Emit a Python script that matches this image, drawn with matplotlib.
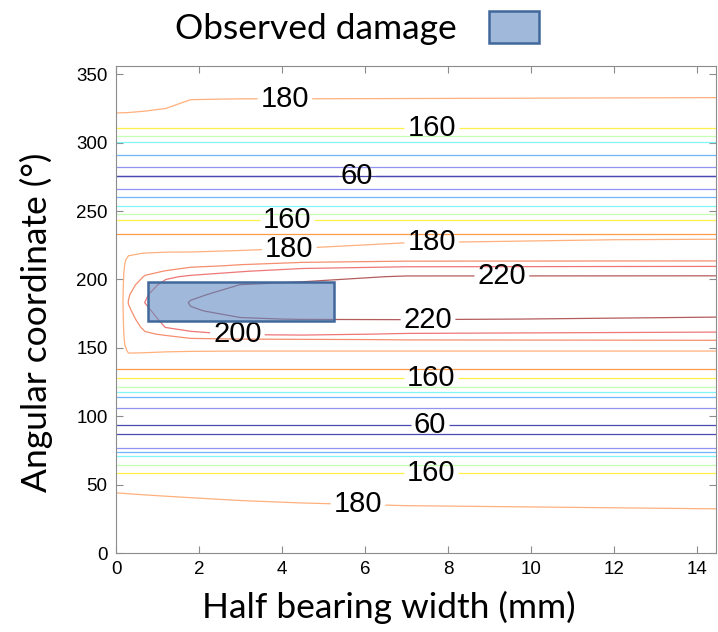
import numpy as np
import matplotlib.pyplot as plt
from matplotlib.patches import Rectangle, Patch

plt.rcParams['font.family'] = ['Liberation Sans', 'DejaVu Sans']

# columns across the half bearing width (mm)
x_mm = [0, 0.15, 0.3, 0.7, 1.2, 1.8, 3.0, 4.5, 7.0, 14.5]

# rows that are the same at every column: angle (deg) -> value
flat_rows = {
    0: 190, 58.7: 160.5, 64.3: 140.5, 70.9: 120.5, 74: 100.5, 76.7: 80.5,
    86.5: 60.5, 90: 55, 94.2: 60.5, 106: 80.5, 114: 100.5, 118: 120.5,
    121.5: 140.5, 128: 160.5, 135: 170.5, 233: 170.5, 243: 160.5,
    247.6: 140.5, 253.7: 120.5, 260: 100.5, 266: 80.5, 275.6: 59.8,
    282: 80.5, 291.5: 100.5, 301: 120.5, 304.6: 140.5, 310.5: 160.5,
    356: 190,
}

# rows that change across the width (one value per column of x_mm)
varying_rows = {
    32:  [195.8, 195.2, 194.3, 192.6, 190.8, 189.0, 186.1, 184.0, 182.1, 180.2],
    142: [174, 175, 177.8, 176.4, 175.8, 175.6, 175.4, 175.4, 175.4, 175.4],
    148: [175, 177, 181, 181.3, 180.8, 180.5, 180.3, 180.3, 180.3, 180.3],
    152: [175, 178.5, 182, 183.9, 184, 184.3, 184.4, 184.7, 185, 185.3],
    156: [175, 178.5, 183.1, 186.5, 187.2, 188.1, 188.9, 189.4, 190.3, 190.7],
    160: [175, 178.5, 184.1, 189, 190.9, 196.7, 201.1, 202.2, 198.9, 197.2],
    165: [175, 178.5, 185.4, 191.6, 200.3, 204.7, 209.3, 210.7, 209.5, 206.6],
    171: [175, 178.5, 186.9, 194.2, 203.6, 211.8, 219.2, 220.4, 220.8, 218.6],
    177: [175, 178.5, 188.5, 196.9, 207.2, 218.8, 223.5, 224.9, 225.3, 224.4],
    183: [175, 178.5, 190.4, 200.2, 210.8, 221, 227.4, 229.5, 229.8, 229.5],
    189: [175, 178.5, 189.2, 198.2, 209, 217.6, 224.8, 228.1, 230, 230],
    196: [175, 178.5, 187, 194.1, 203.8, 209.1, 220.3, 222.9, 225.3, 225.3],
    202: [175, 178.5, 185, 190.6, 198, 201.8, 207.8, 215.3, 221.2, 221.3],
    206: [175, 178.5, 183.8, 188.1, 190.3, 194.4, 199, 205.9, 212, 212.9],
    210: [175, 178.5, 182.5, 185.6, 187.1, 188.3, 190.8, 194, 197.2, 198.2],
    214: [175, 178.5, 181.3, 183.1, 184.3, 185, 186.6, 187.5, 188.6, 188.9],
    219: [175, 178, 179.3, 180.2, 180.7, 180.8, 181.9, 183.3, 185.6, 186.3],
    224: [175, 175.5, 176, 176.4, 176.9, 176.9, 177.5, 179, 182.5, 183.6],
    229: [172, 172.5, 172.7, 172.9, 173.1, 173.1, 173.3, 174, 178, 181],
    333: [200.0, 199.3, 198.7, 195.6, 190.8, 181.5, 180.9, 180.9, 180.7, 180.1],
}

levels = [60, 80, 100, 120, 140, 160, 170, 180, 190, 200, 220]
line_colors = ['#4a4ab0', '#9292f2', '#6fb6ff', '#80f6f6', '#c6ffb4', '#fff04a',
               '#ff9c48', '#ffb07c', '#f58e6e', '#ee7676', '#b45c5c']
# the half-steps 170 and 190 only show around the hot band
hot_band = (128, 243)
hot_levels = [170, 190]

# where the level labels sit
label_spots = {
    180: [(4.07, 331), (7.61, 225.8), (4.19, 212), (5.83, 33)],
    160: [(7.61, 308.3), (4.12, 241.9), (7.59, 131.5), (7.59, 56.3)],
    60: [(5.81, 266), (7.57, 93.5)],
    220: [(9.3, 203.1), (7.52, 168.1)],
    200: [(2.92, 156)],
}

# observed damage zone
damage_x = [0.77, 5.25]
damage_y = [169.5, 198]

angle = np.array(sorted(list(flat_rows) + list(varying_rows)))
Z = np.array([varying_rows[a] if a in varying_rows else [flat_rows[a]] * len(x_mm)
              for a in angle])
band = (angle >= hot_band[0]) & (angle <= hot_band[1])

fig = plt.figure(figsize=(7.18, 6.32), dpi=100)
ax = fig.add_axes([116 / 718, 79 / 632, 600 / 718, 487 / 632])

# one contour set per level so each can carry its own labels
for lev, col in zip(levels, line_colors):
    if lev in hot_levels:
        cs = ax.contour(x_mm, angle[band], Z[band], levels=[lev], colors=[col],
                        linewidths=0.9)
    else:
        cs = ax.contour(x_mm, angle, Z, levels=[lev], colors=[col], linewidths=0.9)
    if lev in label_spots:
        texts = cs.clabel(manual=label_spots[lev], inline=True, inline_spacing=3,
                          fontsize=21, colors='k', fmt='%d')
        for t in texts:
            t.set_rotation(0)

box = Rectangle((damage_x[0], damage_y[0]), damage_x[1] - damage_x[0],
                damage_y[1] - damage_y[0], facecolor=(0.38, 0.54, 0.76, 0.6),
                edgecolor='#41689a', linewidth=1.8, zorder=5)
ax.add_patch(box)

ax.set_xlim(0, 14.46)
ax.set_ylim(0, 356)
ax.set_xticks(range(0, 15, 2))
ax.set_yticks(range(0, 351, 50))
ax.tick_params(direction='in', top=True, right=True, length=5, width=0.8,
               color='#8c8c8c', labelsize=13.5, pad=6)
for s in ax.spines.values():
    s.set_color('#8c8c8c')

ax.set_xlabel('Half bearing width (mm)', family='Lato', fontsize=25.5)
ax.set_ylabel('Angular coordinate (°)', family='Lato', fontsize=25.5)
ax.xaxis.label.set_va('center')
ax.yaxis.label.set_va('center')
ax.xaxis.set_label_coords(0.455, -0.112)
ax.yaxis.set_label_coords(-0.133, 0.474)

handle = Patch(facecolor='#a0b9da', edgecolor='#41689a', linewidth=1.8)
fig.legend(handles=[handle], labels=['Observed damage'], loc='center',
           bbox_to_anchor=(357 / 718, 1 - 28 / 632), frameon=False, markerfirst=False,
           handlelength=1.4, handleheight=1.0, handletextpad=0.9,
           prop={'family': 'Lato', 'size': 25.5})

fig.savefig('out.png', dpi=100)
